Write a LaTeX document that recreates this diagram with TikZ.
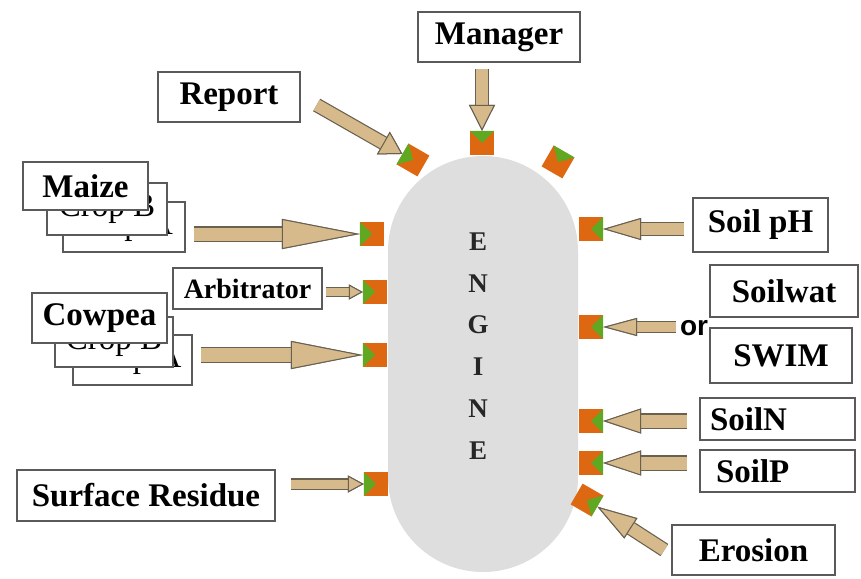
\documentclass[tikz,border=0pt]{standalone}
\usepackage{fontspec}
\setmainfont{Liberation Serif}
\newfontfamily\orfont{Liberation Sans}
\usetikzlibrary{arrows.meta}
\definecolor{portorange}{RGB}{222,104,18}
\definecolor{portgreen}{RGB}{96,168,34}
\definecolor{arrowtan}{RGB}{214,186,140}
\definecolor{arrowline}{RGB}{105,96,80}
\definecolor{enginegrey}{RGB}{222,222,222}
\definecolor{boxline}{RGB}{90,90,90}
\begin{document}
\begin{tikzpicture}[x=1pt,y=-1pt,
    modbox/.style={draw=boxline,line width=1.3pt,fill=white,font=\fontsize{33}{36}\selectfont\bfseries,inner sep=4pt},
    cropbox/.style={modbox,font=\fontsize{33}{36}\selectfont},
    port/.style={fill=portorange,minimum size=24pt,inner sep=0pt},
    fat/.style n args={3}{draw=arrowtan,line width=#1,preaction={draw=arrowline,line width=#1+2.4pt},
      -{Triangle[length=#2,width=#3,fill=arrowtan,color=arrowline,line width=1pt]}}]
  \useasboundingbox[fill=white] (0,0) rectangle (861,578);
  \node[fill=enginegrey,minimum width=190pt,minimum height=416pt,rounded corners=95pt] (engine) at (483,364) {};
  \node[font=\fontsize{27}{41.8}\selectfont\bfseries,align=center,text=black!85] (enginelbl) at (478,346) {E\\N\\G\\I\\N\\E};
  \node[port,rotate=-30] (rptport) at (413,160) {};
  \node[port] (mgrport) at (482,143) {};
  \node[port,rotate=-30] (topport) at (558,162) {};
  \node[port] (mzport) at (372,234) {};
  \node[port] (arbport) at (375,292) {};
  \node[port] (cwport) at (375,355) {};
  \node[port] (srport) at (376,484) {};
  \node[port] (phport) at (591,229) {};
  \node[port] (swport) at (591,327) {};
  \node[port] (snport) at (591,421) {};
  \node[port] (spport) at (591,463) {};
  \node[port,rotate=-30] (erport) at (587,500) {};
  \foreach \p/\a/\b in {rptport/north west/south west,mgrport/north west/north east,topport/north west/north east,
      mzport/north west/south west,arbport/north west/south west,cwport/north west/south west,srport/north west/south west,
      phport/north east/south east,swport/north east/south east,snport/north east/south east,spport/north east/south east,erport/north east/south east}
    \fill[portgreen] (\p.\a) -- (\p.center) -- (\p.\b) -- cycle;
  \node[modbox,minimum width=162pt,minimum height=50pt] (manager) at (499,37) {Manager};
  \node[modbox,minimum width=142pt,minimum height=50pt] (report) at (229,97) {Report};
  \node[cropbox,minimum width=122pt,minimum height=50pt] (cropa1) at (124,227) {Crop A};
  \node[cropbox,minimum width=120pt,minimum height=52pt] (cropb1) at (107,209) {Crop B};
  \node[modbox,minimum width=125pt,minimum height=48pt] (maize) at (85.5,186) {Maize};
  \node[modbox,minimum width=149pt,minimum height=41pt,font=\fontsize{28}{30}\selectfont\bfseries] (arbitrator) at (247.5,288.5) {Arbitrator};
  \node[cropbox,minimum width=119pt,minimum height=50pt] (cropa2) at (132.5,360) {Crop A};
  \node[cropbox,minimum width=118pt,minimum height=50pt] (cropb2) at (114,342) {Crop B};
  \node[modbox,minimum width=135pt,minimum height=50pt] (cowpea) at (99.5,318) {Cowpea};
  \node[modbox,minimum width=258pt,minimum height=51pt] (surface) at (146,495.5) {Surface Residue};
  \node[modbox,minimum width=135pt,minimum height=54pt] (soilph) at (760.5,225) {Soil pH};
  \node[modbox,minimum width=148pt,minimum height=52pt] (soilwat) at (784,291) {Soilwat};
  \node[modbox,minimum width=142pt,minimum height=55pt] (swim) at (781,355.5) {SWIM};
  \node[modbox,minimum width=155pt,minimum height=42pt,text width=147pt,align=left] (soiln) at (777.5,419) {\hspace*{6pt}SoilN};
  \node[modbox,minimum width=155pt,minimum height=42pt,text width=147pt,align=left] (soilp) at (777.5,471) {\hspace*{12pt}SoilP};
  \node[modbox,minimum width=163pt,minimum height=50pt] (erosion) at (753.5,550) {Erosion};
  \node[font=\orfont\fontsize{28}{30}\selectfont\bfseries,inner sep=0pt] (or) at (694,328) {or};
  \draw[fat={12pt}{22pt}{26pt}] ([shift={(16pt,-8pt)}]report.east) -- (rptport);
  \draw[fat={12pt}{26pt}{26pt}] ([yshift=-6pt]manager.south -| mgrport) -- (mgrport);
  \draw[fat={13pt}{78pt}{30pt}] ([xshift=8pt]cropa1.east |- mzport) -- (mzport);
  \draw[fat={8pt}{14pt}{15pt}] ([xshift=3pt]arbitrator.east |- arbport) -- (arbport);
  \draw[fat={14pt}{72pt}{28pt}] ([xshift=8pt]cropa2.east |- cwport) -- (cwport);
  \draw[fat={9pt}{16pt}{17pt}] ([xshift=15pt]surface.east |- srport) -- (srport);
  \draw[fat={12pt}{38pt}{22pt}] ([xshift=-8pt]soilph.west |- phport) -- (phport);
  \draw[fat={10pt}{34pt}{18pt}] ([xshift=-4pt]or.west |- swport) -- (swport);
  \draw[fat={13pt}{38pt}{25pt}] ([xshift=-12pt]soiln.west |- snport) -- (snport);
  \draw[fat={13pt}{38pt}{25pt}] ([xshift=-12pt]soilp.west |- spport) -- (spport);
  \draw[fat={12pt}{40pt}{24pt}] ([xshift=-7pt]erosion.west) -- (erport);
\end{tikzpicture}
\end{document}
